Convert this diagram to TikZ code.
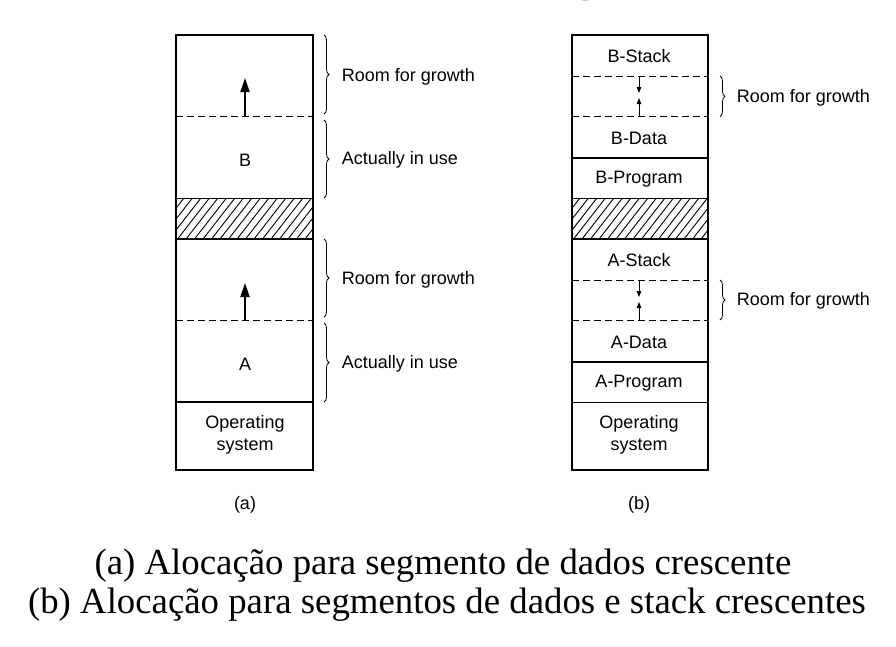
\documentclass[tikz,border=0pt]{standalone}
\usepackage{fontspec}
\setmainfont{Liberation Serif}
\setsansfont{Liberation Sans}
\usetikzlibrary{decorations.pathreplacing,arrows.meta}

\begin{document}
\begin{tikzpicture}[x=1pt,y=-1pt,
  outline/.style={line width=1.8pt},
  sepline/.style={line width=1.6pt},
  dashsep/.style={line width=1pt, dash pattern=on 7pt off 4pt},
  lbl/.style={font=\sffamily\fontsize{18}{22}\selectfont, inner sep=0pt},
  brc/.style={decorate, decoration={brace, amplitude=5pt}, line width=0.8pt},
  bigarrow/.style={line width=2pt, -{Triangle[length=14pt,width=9pt]}},
  smallarrow/.style={line width=0.9pt, -{Triangle[length=6pt,width=4.5pt]}},
  hatchline/.style={line width=0.9pt},
  capline/.style={font=\fontsize{36.8}{40}\selectfont, inner sep=0pt, anchor=base}
]
\useasboundingbox (0,0) rectangle (896,646);
\clip (0,0) rectangle (896,646);

% cut-off title (only its descenders show at the top edge)
\node[anchor=base west, inner sep=0pt, font=\bfseries\fontsize{60}{64}\selectfont] (title) at (348,-12.5) {Swapping};

% ================= (a) =================
\begin{scope}
  \clip (176,198.5) rectangle (313,239);
  \foreach \i in {-6,...,18} \draw[hatchline] (176+\i*8.5,241) -- ++(35,-45);
\end{scope}
\draw[dashsep] (176,116.5) -- (313,116.5);
\draw[dashsep] (176,320) -- (313,320);
\draw[sepline] (176,198.5) -- (313,198.5);
\draw[sepline] (176,239) -- (313,239);
\draw[sepline] (176,402) -- (313,402);
\draw[outline] (176,35) rectangle (313,470);

\coordinate (aB0) at (245,116.5);
\coordinate (aB1) at (245,78);
\draw[bigarrow] (aB0) -- (aB1);
\coordinate (aA0) at (245,320);
\coordinate (aA1) at (245,283);
\draw[bigarrow] (aA0) -- (aA1);

\node[lbl] (B) at (245,160) {B};
\node[lbl] (A) at (245,364) {A};
\node[lbl, align=center, font=\sffamily\fontsize{18}{22}\selectfont] (osa) at (245,435) {Operating\\system};

\draw[brc] (324,35) -- (324,114);
\draw[brc] (324,120) -- (324,198);
\draw[brc] (324,239) -- (324,317);
\draw[brc] (324,323) -- (324,402);
\node[lbl, anchor=west] (rg1) at (341.7,77) {Room for growth};
\node[lbl, anchor=west] (au1) at (341.7,160) {Actually in use};
\node[lbl, anchor=west] (rg2) at (341.7,280) {Room for growth};
\node[lbl, anchor=west] (au2) at (341.7,364) {Actually in use};

\node[lbl] (la) at (245,505) {(a)};

% ================= (b) =================
\begin{scope}
  \clip (572,198.3) rectangle (708,239);
  \foreach \i in {-6,...,18} \draw[hatchline] (572+\i*8.5,241) -- ++(35,-45);
\end{scope}
\draw[dashsep] (572,76) -- (708,76);
\draw[dashsep] (572,116.7) -- (708,116.7);
\draw[dashsep] (572,280) -- (708,280);
\draw[dashsep] (572,320) -- (708,320);
\draw[sepline] (572,157.7) -- (708,157.7);
\draw[sepline] (572,198.3) -- (708,198.3);
\draw[sepline] (572,239) -- (708,239);
\draw[sepline] (572,361.7) -- (708,361.7);
\draw[sepline] (572,402.3) -- (708,402.3);
\draw[outline] (572,35) rectangle (708,470);

\coordinate (bB0) at (639,76);
\coordinate (bB1) at (639,93);
\coordinate (bB2) at (639,116.7);
\coordinate (bB3) at (639,98);
\draw[smallarrow] (bB0) -- (bB1);
\draw[smallarrow] (bB2) -- (bB3);
\coordinate (bA0) at (639,280);
\coordinate (bA1) at (639,297);
\coordinate (bA2) at (639,320);
\coordinate (bA3) at (639,302);
\draw[smallarrow] (bA0) -- (bA1);
\draw[smallarrow] (bA2) -- (bA3);

\node[lbl] (bstack) at (639,56) {B-Stack};
\node[lbl] (bdata) at (639,138) {B-Data};
\node[lbl] (bprog) at (639,179) {B-Program};
\node[lbl] (astack) at (639,260) {A-Stack};
\node[lbl] (adata) at (639,342) {A-Data};
\node[lbl] (aprog) at (639,383) {A-Program};
\node[lbl, align=center, font=\sffamily\fontsize{18}{22}\selectfont] (osb) at (639,435) {Operating\\system};

\draw[brc] (720,76) -- (720,116.7);
\draw[brc] (720,280) -- (720,320);
\node[lbl, anchor=west] (rg3) at (736.7,97.5) {Room for growth};
\node[lbl, anchor=west] (rg4) at (736.7,300.5) {Room for growth};

\node[lbl] (lb) at (639,505) {(b)};

% ================= caption =================
\node[capline] (cap1) at (443,574) {(a) Alocação para segmento de dados crescente};
\node[capline] (cap2) at (447,613) {(b) Alocação para segmentos de dados e stack crescentes};
\end{tikzpicture}
\end{document}
